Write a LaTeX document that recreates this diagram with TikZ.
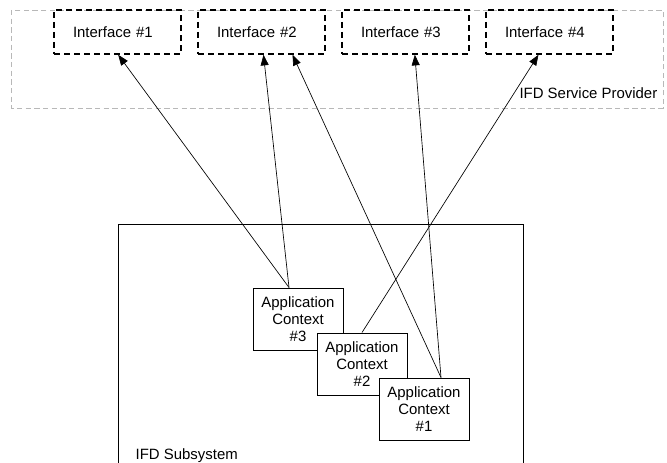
\documentclass[tikz,border=0pt]{standalone}
\usepackage{fontspec}
\setmainfont{Liberation Sans}
\usetikzlibrary{arrows.meta}
\tikzset{
    iface/.style={draw,line width=1.1pt,dash pattern=on 4.5pt off 3pt,text width=66.75pt,align=left,inner xsep=14.25pt,minimum height=33pt,inner ysep=0pt},
    appctx/.style={draw,fill=white,line width=0.7pt,minimum width=67.5pt,minimum height=46.5pt,align=center,inner sep=0pt},
    link/.style={-{Triangle[length=8pt,width=6pt]},line width=0.5pt}
}
\begin{document}
\begin{tikzpicture}[x=0.75pt,y=-0.75pt,font=\fontsize{11.2}{12.8}\selectfont]
        \useasboundingbox (0,0) rectangle (667,463);
        %% Service provider
        \draw[black!28,line width=0.7pt,dash pattern=on 4pt off 2.5pt] (11,10) rectangle (663,108);
        \node[anchor=base east] (prov) at (662,99) {IFD Service Provider};
        \foreach \i in {1,...,4} {
            \node[iface] (if\i) at ({117.5+144*(\i-1)},32) {Interface \#\i};
        }
        %% Subsystem
        \draw[line width=0.7pt] (118,463) -- (118,224) -- (523,224) -- (523,463);
        \node[anchor=base west] (subsys) at (131,459) {IFD Subsystem};
        \node[appctx] (ctx3) at (298,319) {Application\\Context\\\#3};
        \node[appctx] (ctx2) at (362,364) {Application\\Context\\\#2};
        \node[appctx] (ctx1) at (424,409) {Application\\Context\\\#1};
        %% Links
        \draw[link] ([xshift=-6.75pt]ctx3.north) -- ([xshift=0.5pt]if1.south);
        \draw[link] ([xshift=-6.75pt]ctx3.north) -- ([xshift=1.5pt]if2.south);
        \draw[link] ([xshift=12.75pt]ctx1.north) -- ([xshift=23.25pt]if2.south);
        \draw[link] ([xshift=12.75pt]ctx1.north) -- ([xshift=7pt]if3.south);
        \draw[link] (ctx2.north) -- ([xshift=-8.25pt]if4.south);
\end{tikzpicture}
\end{document}
